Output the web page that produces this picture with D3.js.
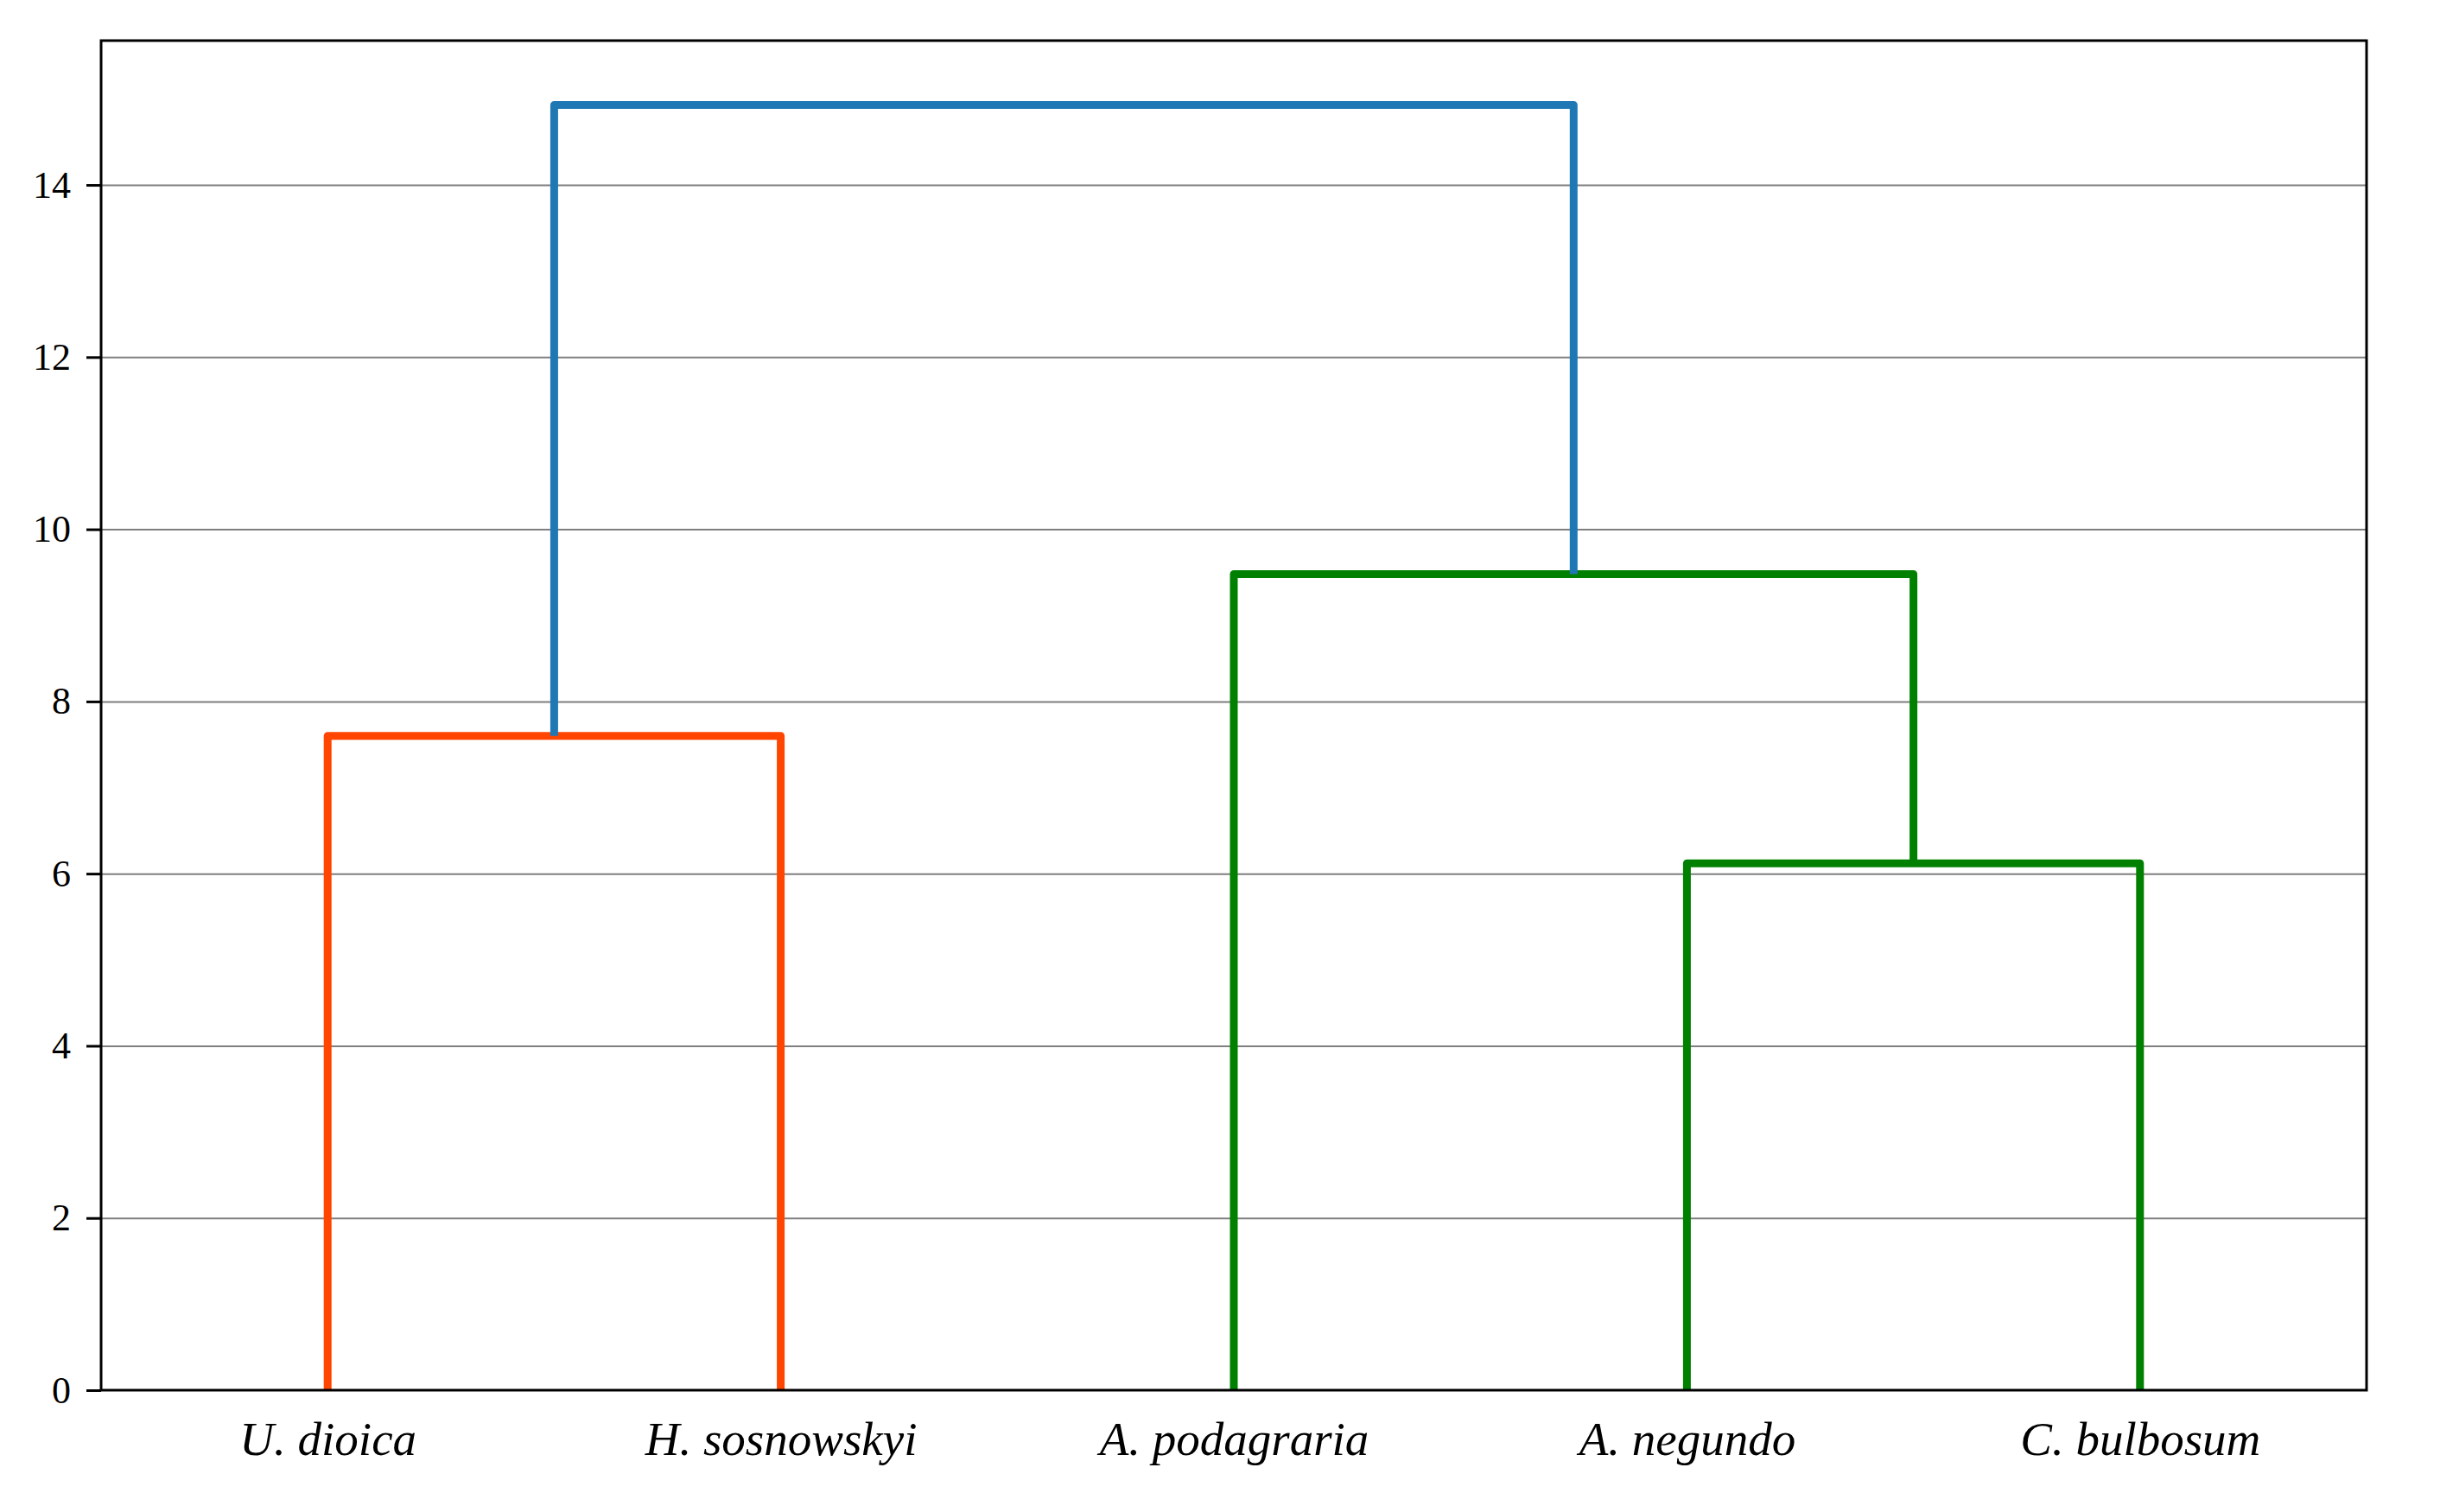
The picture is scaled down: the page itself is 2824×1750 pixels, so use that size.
<!DOCTYPE html>
<head>
<meta charset="utf-8">
<style>
body { margin: 0; background: #fff; }
.axis text { font-family: "Liberation Serif", "DejaVu Serif", serif; fill: #000; }
.grid line { stroke: #7f7f7f; stroke-width: 2; }
.grid .domain { display: none; }
.link { fill: none; stroke-width: 9; stroke-linejoin: round; }
</style>
<title>Dendrogram</title>
</head>
<body>
<svg width="2824" height="1750"></svg>
<script src="https://cdn.jsdelivr.net/npm/d3@7"></script>
<script type="text/javascript">
/* global d3 */
// leaf labels, left to right
var leaves = ["U. dioica", "H. sosnowskyi", "A. podagraria", "A. negundo", "C. bulbosum"]
// merges, scipy style: [left, right, height], index >= leaves.length means merge (index - n)
var mergeLeft = [3, 0, 2, 6]
var mergeRight = [4, 1, 5, 7]
var mergeHeight = [6.12, 7.6, 9.48, 14.93]
var mergeColor = ["#008000", "#ff4500", "#008000", "#1f77b4"]
var yTicks = [0, 2, 4, 6, 8, 10, 12, 14]

var svg = d3.select("svg"),
    margin = {top: 47, right: 85, bottom: 141, left: 117},
    width = +svg.attr("width") - margin.left - margin.right,
    height = +svg.attr("height") - margin.top - margin.bottom

var n = leaves.length
var x = d3.scaleLinear().domain([0, 10 * n]).range([0, width]),
    y = d3.scaleLinear().domain([0, d3.max(mergeHeight) * 1.05]).range([height, 0])

var g = svg.append("g")
    .attr("transform", "translate(" + margin.left + "," + margin.top + ")")

// grid lines
g.append("g")
    .attr("class", "grid")
    .call(d3.axisLeft(y).tickValues(yTicks.filter(d => d > 0)).tickSize(-width).tickFormat(""))

// positions of nodes: leaves at 5, 15, ... like scipy
var nodeX = leaves.map((d, i) => 10 * i + 5),
    nodeH = leaves.map(() => 0)
mergeHeight.forEach((h, k) => {
  nodeX.push((nodeX[mergeLeft[k]] + nodeX[mergeRight[k]]) / 2)
  nodeH.push(h)
})

var links = mergeHeight.map((h, k) => ({
  x1: nodeX[mergeLeft[k]], h1: nodeH[mergeLeft[k]],
  x2: nodeX[mergeRight[k]], h2: nodeH[mergeRight[k]],
  h: h, color: mergeColor[k]
}))

g.selectAll(".link")
  .data(links)
  .enter().append("path")
    .attr("class", "link")
    .attr("stroke", d => d.color)
    .attr("d", d => "M" + x(d.x1) + "," + y(d.h1) +
      "V" + y(d.h) + "H" + x(d.x2) + "V" + y(d.h2))

// frame
g.append("rect")
    .attr("width", width)
    .attr("height", height)
    .attr("fill", "none")
    .attr("stroke", "#000")
    .attr("stroke-width", 3)

// y axis
var yAxis = g.append("g")
    .attr("class", "axis axis--y")
    .call(d3.axisLeft(y).tickValues(yTicks).tickSize(17).tickPadding(18))
yAxis.select(".domain").remove()
yAxis.selectAll(".tick line").attr("stroke", "#000").attr("stroke-width", 3)
yAxis.selectAll("text").style("font-size", "44px")

// x axis labels
var xAxis = g.append("g")
    .attr("class", "axis axis--x")
    .attr("transform", "translate(0," + height + ")")
    .call(d3.axisBottom(x).tickValues(nodeX.slice(0, n)).tickSize(0).tickPadding(36)
      .tickFormat((d, i) => leaves[i]))
xAxis.select(".domain").remove()
xAxis.selectAll("text")
    .style("font-size", "55px")
    .style("font-style", "italic")
</script>
</body>
